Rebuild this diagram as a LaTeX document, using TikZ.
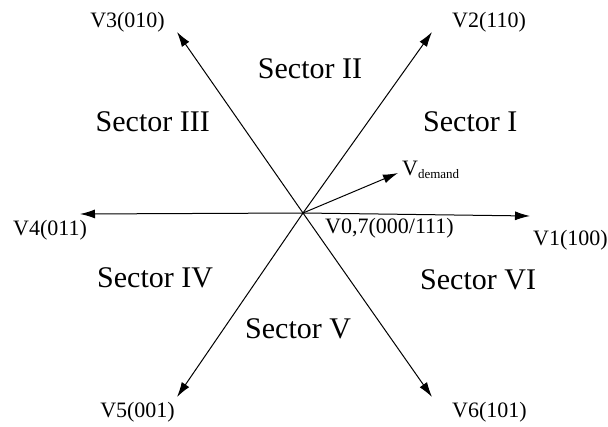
\documentclass[tikz,border=0pt]{standalone}
\usepackage{fontspec}
\setmainfont{Liberation Serif}
\usetikzlibrary{arrows.meta}
\begin{document}
\begin{tikzpicture}[x=1pt,y=-1pt,
  vec/.style={line width=1pt,-{Latex[length=15pt,width=9pt]}},
  lbl/.style={font=\fontsize{22}{24}\selectfont,inner sep=0pt},
  sect/.style={font=\fontsize{30}{32}\selectfont,inner sep=0pt}]
\useasboundingbox (0,0) rectangle (608,426);
\coordinate (o) at (303,213);
\coordinate (t1) at (530,216);
\coordinate (t2) at (432,32);
\coordinate (t3) at (177,32);
\coordinate (t4) at (80,214);
\coordinate (t5) at (177,397);
\coordinate (t6) at (432,397);
\coordinate (td) at (398,173);
\foreach \t in {t1,t2,t3,t4,t5,t6,td} \draw[vec] (o) -- (\t);
\node[lbl,anchor=base west] (l1) at (533,245) {V1(100)};
\node[lbl,anchor=base west] (l2) at (452,27) {V2(110)};
\node[lbl,anchor=base east] (l3) at (165,27) {V3(010)};
\node[lbl,anchor=base west] (l4) at (13,235) {V4(011)};
\node[lbl,anchor=base east] (l5) at (175,417) {V5(001)};
\node[lbl,anchor=base west] (l6) at (452,417) {V6(101)};
\node[lbl,anchor=base west] (l0) at (325,233) {V0,7(000/111)};
\node[lbl,anchor=base west] (ld) at (402,175) {V\raisebox{-3pt}{\fontsize{13}{14}\selectfont demand}};
\node[sect,anchor=base west] (s1) at (423,131) {Sector I};
\node[sect,anchor=base] (s2) at (310,78) {Sector II};
\node[sect,anchor=base east] (s3) at (210,131) {Sector III};
\node[sect,anchor=base west] (s4) at (97,287) {Sector IV};
\node[sect,anchor=base west] (s6) at (420,289) {Sector VI};
\node[sect,anchor=base west] (s5) at (245,338) {Sector V};
\end{tikzpicture}
\end{document}
